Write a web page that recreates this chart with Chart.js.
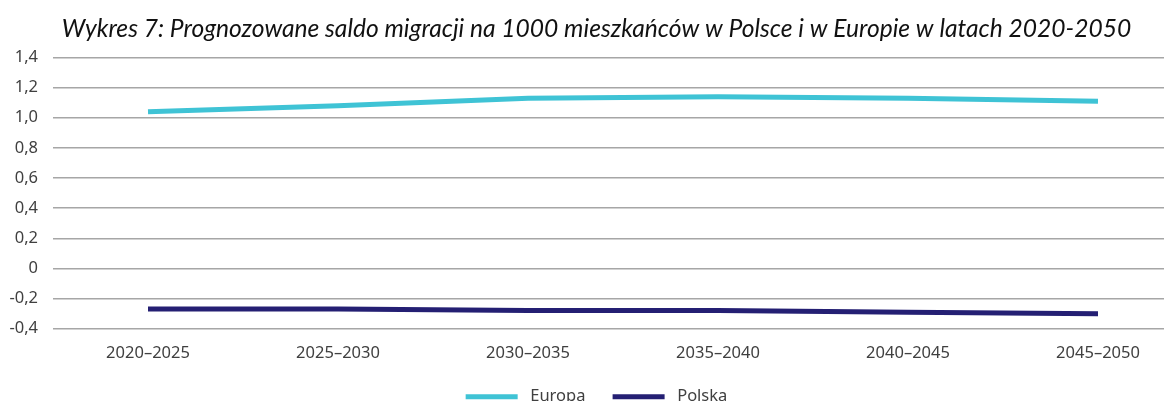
<!DOCTYPE html>
<html>
<head>
<meta charset="utf-8">
<script src="https://cdn.jsdelivr.net/npm/chart.js@4"></script>
<style>
  body { margin: 0; background: #fff; overflow: hidden; }
  #wrap { width: 1196px; height: 415px; }
</style>
</head>
<body>
<div id="wrap"><canvas id="chart" width="1196" height="415"></canvas></div>
<script>
const okresy = ['2020–2025', '2025–2030', '2030–2035', '2035–2040', '2040–2045', '2045–2050'];
const europa = [1.04, 1.08, 1.13, 1.14, 1.13, 1.11];
const polska = [-0.27, -0.27, -0.28, -0.28, -0.29, -0.30];
const yMin = -0.4;
const yMax = 1.4;
const yKrok = 0.2;

const ctx = document.getElementById('chart');
const tickFont = { family: 'Noto Sans', size: 16.5 };

new Chart(ctx, {
  type: 'line',
  data: {
    labels: okresy,
    datasets: [{
      label: 'Europa',
      data: europa,
      borderColor: '#3fc3d5',
      backgroundColor: '#3fc3d5',
      borderWidth: 5,
      pointRadius: 0,
      tension: 0
    }, {
      label: 'Polska',
      data: polska,
      borderColor: '#241f73',
      backgroundColor: '#241f73',
      borderWidth: 5,
      pointRadius: 0,
      tension: 0
    }]
  },
  options: {
    responsive: false,
    animation: false,
    layout: { padding: { left: 0, right: 3, top: 0, bottom: 0 } },
    plugins: {
      title: {
        display: true,
        text: 'Wykres 7: Prognozowane saldo migracji na 1000 mieszkańców w Polsce i w Europie w latach 2020-2050',
        color: '#111',
        font: { family: 'Lato', size: 24.6, style: 'italic', weight: 'normal' },
        padding: { top: 14, bottom: 14 }
      },
      legend: {
        position: 'bottom',
        labels: {
          color: '#404040',
          font: tickFont,
          boxWidth: 52,
          boxHeight: 5,
          padding: 10,
          // odstęp między pozycjami legendy szerszy niż padding
          generateLabels: chart => Chart.defaults.plugins.legend.labels.generateLabels(chart)
            .map((l, i) => Object.assign(l, { lineWidth: 0, text: i === 0 ? ' ' + l.text + '    ' : ' ' + l.text }))
        }
      },
      tooltip: { enabled: false }
    },
    scales: {
      x: {
        offset: true,
        grid: { display: false, drawTicks: false },
        border: { display: false },
        ticks: { color: '#404040', font: tickFont, padding: 15, autoSkip: false, maxRotation: 0 }
      },
      y: {
        min: yMin,
        max: yMax,
        afterFit: s => { s.width = 53; },
        border: { display: false },
        grid: { color: '#a6a6a6', lineWidth: 1.5, drawTicks: false },
        ticks: {
          stepSize: yKrok,
          padding: 15,
          color: '#404040',
          font: tickFont,
          callback: v => {
            const r = Math.round(v * 10) / 10;
            return r === 0 ? '0' : r.toFixed(1).replace('.', ',');
          }
        }
      }
    }
  }
});
</script>
</body>
</html>
